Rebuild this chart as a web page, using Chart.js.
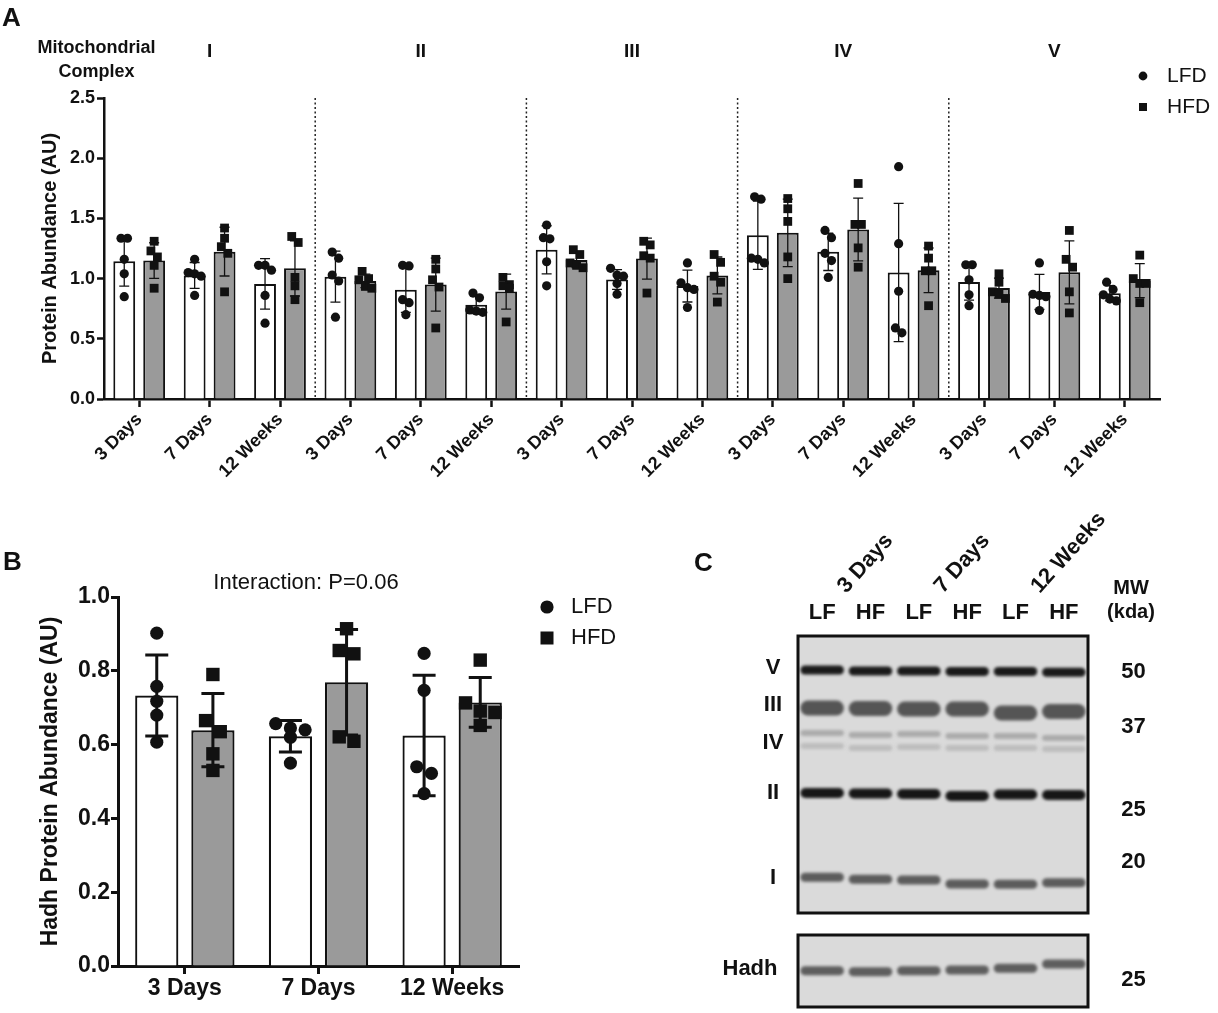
<!DOCTYPE html>
<html>
<head>
<meta charset="utf-8">
<script src="https://cdn.jsdelivr.net/npm/chart.js@4"></script>
<style>
  body { margin: 0; background: #fff; }
  #wrap { position: relative; width: 1218px; height: 1013px; overflow: hidden; font-family: 'Liberation Sans', Arial, sans-serif; color: #111; }
  canvas { position: absolute; }
  .letter { position: absolute; font-weight: bold; font-size: 26px; line-height: 1; }
</style>
</head>
<body>
<div id="wrap">
  <canvas id="chartA" width="1218" height="500" style="left:0;top:0"></canvas>
  <canvas id="chartB" width="660" height="473" style="left:0;top:540px"></canvas>
  <canvas id="chartC" width="528" height="513" style="left:690px;top:500px"></canvas>
  <div class="letter" style="left:2px;top:4px">A</div>
  <div class="letter" style="left:3px;top:548px">B</div>
  <div class="letter" style="left:694px;top:549px">C</div>
</div>
<script>
const FONT = "'Liberation Sans', Arial, Helvetica, sans-serif";
const INK = '#111';

// ---- panel A: complexes I-V, each at 3 days / 7 days / 12 weeks
const timepoints = ['3 Days', '7 Days', '12 Weeks'];
const complexes = ['I', 'II', 'III', 'IV', 'V'];

const lfdA = [
  [1.335, 1.335, 1.16, 1.04, 0.85],   // I
  [1.16, 1.05, 1.04, 1.02, 0.86],
  [1.11, 1.11, 1.07, 0.86, 0.63],
  [1.22, 1.17, 1.03, 0.98, 0.68],     // II
  [1.11, 1.105, 0.825, 0.80, 0.70],
  [0.88, 0.84, 0.74, 0.73, 0.72],
  [1.445, 1.34, 1.33, 1.14, 0.94],    // III
  [1.085, 1.03, 1.02, 0.96, 0.87],
  [1.13, 0.965, 0.925, 0.91, 0.76],
  [1.68, 1.66, 1.17, 1.16, 1.13],     // IV
  [1.40, 1.34, 1.21, 1.15, 1.01],
  [1.93, 1.29, 0.895, 0.59, 0.55],
  [1.115, 1.115, 0.99, 0.865, 0.775], // V
  [1.13, 0.87, 0.86, 0.85, 0.735],
  [0.97, 0.91, 0.865, 0.83, 0.815]
];
const hfdA = [
  [1.31, 1.23, 1.18, 1.11, 0.92],     // I
  [1.42, 1.335, 1.265, 1.21, 0.89],
  [1.35, 1.30, 1.01, 0.94, 0.825],
  [1.06, 1.0, 0.99, 0.935, 0.92],     // II
  [1.16, 1.08, 0.99, 0.93, 0.59],
  [1.01, 0.95, 0.94, 0.92, 0.64],
  [1.24, 1.20, 1.13, 1.11, 1.09],     // III
  [1.31, 1.28, 1.19, 1.17, 0.88],
  [1.20, 1.135, 1.02, 0.97, 0.805],
  [1.665, 1.58, 1.475, 1.18, 1.0],    // IV
  [1.79, 1.45, 1.45, 1.255, 1.095],
  [1.27, 1.17, 1.065, 1.065, 0.775],
  [1.04, 0.97, 0.89, 0.87, 0.835],    // V
  [1.40, 1.16, 1.095, 0.89, 0.715],
  [1.195, 1.0, 0.96, 0.96, 0.80]
];

// ---- panel B: Hadh
const lfdB = [
  [0.902, 0.758, 0.7175, 0.68, 0.6065],
  [0.657, 0.645, 0.64, 0.62, 0.55],
  [0.847, 0.747, 0.54, 0.522, 0.467]
];
const hfdB = [
  [0.79, 0.665, 0.635, 0.575, 0.53],
  [0.914, 0.855, 0.846, 0.621, 0.609],
  [0.829, 0.713, 0.691, 0.687, 0.652]
];
const interactionText = 'Interaction: P=0.06';

// ---- panel C: blot, band migration (px from top of gel) per lane
const lanes = ['LF', 'HF', 'LF', 'HF', 'LF', 'HF'];
const bandV     = [34, 35, 35, 35.5, 35.5, 36.3];
const bandIII   = [72, 72.5, 73, 73, 77, 75.5];
const bandIVa   = [97, 99, 98, 100, 100, 102];
const bandIVb   = [110, 112, 111, 112, 112, 113];
const bandII    = [157, 157.5, 158, 160, 158.5, 159];
const bandI     = [241.3, 243.3, 244, 248, 248.3, 246.7];
const bandHadh  = [334.7, 335.7, 334.7, 334, 332.3, 328];
const bandNames = ['V', 'III', 'IV', 'II', 'I'];
const bandNamePos = [32, 69, 106.7, 156.7, 242.3];
const mwLabels = ['50', '37', '25', '20', '25'];
const mwPos = [35.7, 90.7, 174, 225.7, 344];

// ---- helpers
const mean = a => a.reduce((s, v) => s + v, 0) / a.length;
const sd = a => { const m = mean(a); return Math.sqrt(a.reduce((s, v) => s + (v - m) ** 2, 0) / (a.length - 1)); };

// spread overlapping points sideways like a column scatter
function swarm(values, center, spacing, thresh) {
  const order = values.map((v, i) => i).sort((a, b) => values[b] - values[a]);
  const out = [];
  let row = [];
  const flush = () => {
    row.forEach((k, r) => out.push({ x: center + (r - (row.length - 1) / 2) * spacing, y: values[k] }));
    row = [];
  };
  order.forEach(k => {
    if (row.length && values[row[0]] - values[k] > thresh) flush();
    row.push(k);
  });
  flush();
  return out;
}

function drawErrorBars(chart, dsIndex, groups, capW, lw) {
  const ctx = chart.ctx, y = chart.scales.y;
  const meta = chart.getDatasetMeta(dsIndex);
  ctx.save();
  ctx.strokeStyle = INK;
  ctx.lineWidth = lw;
  meta.data.forEach((bar, j) => {
    const m = mean(groups[j]), s = sd(groups[j]);
    const y1 = y.getPixelForValue(m + s), y2 = y.getPixelForValue(m - s);
    ctx.beginPath();
    ctx.moveTo(bar.x, y1); ctx.lineTo(bar.x, y2);
    ctx.moveTo(bar.x - capW / 2, y1); ctx.lineTo(bar.x + capW / 2, y1);
    ctx.moveTo(bar.x - capW / 2, y2); ctx.lineTo(bar.x + capW / 2, y2);
    ctx.stroke();
  });
  ctx.restore();
}

// individual animals, placed with the chart's own x (category index) and y scales
function drawPoints(chart, groups, shift, spacing, thresh, square, size) {
  const { ctx, scales: { x, y } } = chart;
  ctx.save();
  ctx.fillStyle = INK;
  groups.forEach((vals, i) => {
    swarm(vals, i + shift, spacing, thresh).forEach(p => {
      const px = x.getPixelForValue(p.x), py = y.getPixelForValue(p.y);
      ctx.beginPath();
      if (square) ctx.rect(px - size / 2, py - size / 2, size, size);
      else ctx.arc(px, py, size / 2, 0, Math.PI * 2);
      ctx.fill();
    });
  });
  ctx.restore();
}

function legend(ctx, x, y, gap, dot, sq, size) {
  ctx.save();
  ctx.fillStyle = INK;
  ctx.beginPath(); ctx.arc(x, y, dot / 2, 0, Math.PI * 2); ctx.fill();
  ctx.fillRect(x - sq / 2, y + gap - sq / 2, sq, sq);
  ctx.font = `${size}px ${FONT}`;
  ctx.textBaseline = 'middle';
  ctx.fillText('LFD', x + 24, y);
  ctx.fillText('HFD', x + 24, y + gap);
  ctx.restore();
}

function axisOpts(lw) {
  return {
    grid: { drawOnChartArea: false, offset: false, tickLength: 8, tickWidth: lw, tickColor: INK, color: INK },
    border: { color: INK, width: lw }
  };
}

// ================= Panel A =================
const catsA = complexes.flatMap(() => timepoints);
const offA = 0.2125;

new Chart(document.getElementById('chartA'), {
  type: 'bar',
  data: {
    labels: catsA,
    datasets: [
      { label: 'LFD', data: lfdA.map(mean), backgroundColor: '#ffffff', borderColor: INK, borderWidth: 2 },
      { label: 'HFD', data: hfdA.map(mean), backgroundColor: '#9a9a9a', borderColor: INK, borderWidth: 2 }
    ]
  },
  options: {
    responsive: false,
    animation: false,
    layout: { padding: { left: 0, top: 98, right: 58, bottom: 0 } },
    datasets: { bar: { categoryPercentage: 0.85, barPercentage: 0.73 } },
    plugins: { legend: { display: false }, tooltip: { enabled: false } },
    scales: {
      x: {
        ...axisOpts(2.5),
        ticks: { font: { family: FONT, size: 18, weight: 'bold' }, color: INK, minRotation: 45, maxRotation: 45, autoSkip: false, padding: 2 },
        afterFit: s => { s.height = 101; }
      },
      y: {
        min: 0, max: 2.5,
        border: { color: INK, width: 2.5 },
        grid: { drawOnChartArea: false, tickLength: 7, tickWidth: 2.5, tickColor: INK, color: INK },
        ticks: { stepSize: 0.5, callback: v => v.toFixed(1), font: { family: FONT, size: 18, weight: 'bold' }, color: INK, padding: 2 },
        title: { display: true, text: 'Protein Abundance (AU)', font: { family: FONT, size: 20, weight: 'bold' }, color: INK, padding: { top: 38, bottom: 0 } },
        afterFit: s => { s.width = 104; }
      }
    }
  },
  plugins: [{
    id: 'annotA',
    beforeDatasetsDraw(chart) {
      const { ctx, chartArea, scales: { x } } = chart;
      ctx.save();
      ctx.strokeStyle = '#222';
      ctx.lineWidth = 1.5;
      ctx.setLineDash([2, 2.5]);
      for (let g = 1; g < complexes.length; g++) {
        const px = (x.getPixelForValue(g * 3 - 1) + x.getPixelForValue(g * 3)) / 2;
        ctx.beginPath(); ctx.moveTo(px, chartArea.top); ctx.lineTo(px, chartArea.bottom); ctx.stroke();
      }
      ctx.restore();
    },
    afterDatasetsDraw(chart) {
      drawErrorBars(chart, 0, lfdA, 10, 1.3);
      drawErrorBars(chart, 1, hfdA, 10, 1.3);
      drawPoints(chart, lfdA, -offA, 0.092, 0.07, false, 9.2);
      drawPoints(chart, hfdA, offA, 0.092, 0.07, true, 8.8);
    },
    afterDraw(chart) {
      const { ctx, scales: { x } } = chart;
      ctx.save();
      ctx.fillStyle = INK;
      ctx.textAlign = 'center';
      ctx.textBaseline = 'middle';
      ctx.font = `bold 18px ${FONT}`;
      ctx.fillText('Mitochondrial', 96.5, 48);
      ctx.fillText('Complex', 96.5, 72);
      ctx.font = `bold 19px ${FONT}`;
      complexes.forEach((c, g) => ctx.fillText(c, x.getPixelForValue(g * 3 + 1), 52));
      ctx.restore();
      legend(ctx, 1143, 76, 31, 8.8, 8, 21);
    }
  }]
});

// ================= Panel B =================
const offB = 0.21;
new Chart(document.getElementById('chartB'), {
  type: 'bar',
  data: {
    labels: timepoints,
    datasets: [
      { label: 'LFD', data: lfdB.map(mean), backgroundColor: '#ffffff', borderColor: INK, borderWidth: 2.2 },
      { label: 'HFD', data: hfdB.map(mean), backgroundColor: '#9a9a9a', borderColor: INK, borderWidth: 2.2 }
    ]
  },
  options: {
    responsive: false,
    animation: false,
    layout: { padding: { left: 0, top: 57, right: 141, bottom: 0 } },
    datasets: { bar: { categoryPercentage: 0.84, barPercentage: 0.77 } },
    plugins: { legend: { display: false }, tooltip: { enabled: false } },
    scales: {
      x: {
        ...axisOpts(3),
        ticks: { font: { family: FONT, size: 23, weight: 'bold' }, color: INK, maxRotation: 0, padding: 1 },
        afterFit: s => { s.height = 47; }
      },
      y: {
        min: 0, max: 1,
        border: { color: INK, width: 3 },
        grid: { drawOnChartArea: false, tickLength: 7, tickWidth: 3, tickColor: INK, color: INK },
        ticks: { stepSize: 0.2, callback: v => v.toFixed(1), font: { family: FONT, size: 23, weight: 'bold' }, color: INK, padding: 1 },
        title: { display: true, text: 'Hadh Protein Abundance (AU)', font: { family: FONT, size: 23, weight: 'bold' }, color: INK, padding: { top: 37, bottom: 0 } },
        afterFit: s => { s.width = 118; }
      }
    }
  },
  plugins: [{
    id: 'annotB',
    afterDatasetsDraw(chart) {
      drawErrorBars(chart, 0, lfdB, 23, 3);
      drawErrorBars(chart, 1, hfdB, 23, 3);
      drawPoints(chart, lfdB, -offB, 0.11, 0.035, false, 13.2);
      drawPoints(chart, hfdB, offB, 0.11, 0.035, true, 13.4);
    },
    afterDraw(chart) {
      const ctx = chart.ctx;
      ctx.save();
      ctx.fillStyle = INK;
      ctx.textAlign = 'center';
      ctx.textBaseline = 'middle';
      ctx.font = `22px ${FONT}`;
      ctx.fillText(interactionText, 306, 43);
      ctx.restore();
      legend(ctx, 547, 67, 31, 13.2, 13, 22);
    }
  }]
});

// ================= Panel C =================
const GEL_MAIN = [0, 277], GEL_HADH = [299, 371];
const bands = [
  { mig: bandV, h: 9, color: '#1a1a1a' },
  { mig: bandIII, h: 15, color: '#555555' },
  { mig: bandIVa, h: 6, color: '#ababab' },
  { mig: bandIVb, h: 6, color: '#bdbdbd' },
  { mig: bandII, h: 10, color: '#161616' },
  { mig: bandI, h: 9, color: '#5c5c5c' },
  { mig: bandHadh, h: 9, color: '#5e5e5e' }
];

new Chart(document.getElementById('chartC'), {
  type: 'bar',
  data: {
    labels: lanes,
    datasets: bands.map(b => ({
      data: b.mig.map(c => [c - b.h / 2, c + b.h / 2]),
      backgroundColor: b.color,
      borderRadius: b.h / 2,
      borderSkipped: false,
      grouped: false,
      barPercentage: 0.9,
      categoryPercentage: 1
    }))
  },
  options: {
    responsive: false,
    animation: false,
    layout: { padding: { left: 108, top: 100, right: 130, bottom: 6 } },
    plugins: { legend: { display: false }, tooltip: { enabled: false } },
    scales: {
      x: {
        position: 'top',
        grid: { display: false, drawTicks: false },
        border: { display: false },
        ticks: { font: { family: FONT, size: 22, weight: 'bold' }, color: INK, padding: 10 },
        afterFit: s => { s.height = 36; }
      },
      y: { min: 0, max: 371, reverse: true, display: false }
    }
  },
  plugins: [{
    id: 'blot',
    beforeDatasetsDraw(chart) {
      const { ctx, chartArea: { left, right }, scales: { y } } = chart;
      ctx.save();
      ctx.fillStyle = '#dadada';
      [GEL_MAIN, GEL_HADH].forEach(([a, b]) => {
        ctx.fillRect(left, y.getPixelForValue(a), right - left, y.getPixelForValue(b) - y.getPixelForValue(a));
      });
      ctx.restore();
      ctx.filter = 'blur(1.5px)';
    },
    afterDatasetsDraw(chart) {
      const { ctx, chartArea: { left, right }, scales: { y } } = chart;
      ctx.filter = 'none';
      ctx.save();
      ctx.strokeStyle = INK;
      ctx.lineWidth = 3;
      [GEL_MAIN, GEL_HADH].forEach(([a, b]) => {
        ctx.strokeRect(left, y.getPixelForValue(a), right - left, y.getPixelForValue(b) - y.getPixelForValue(a));
      });
      ctx.restore();
    },
    afterDraw(chart) {
      const { ctx, chartArea: { left, right, top }, scales: { x, y } } = chart;
      ctx.save();
      ctx.fillStyle = INK;
      ctx.font = `bold 22px ${FONT}`;
      // time labels, slanted over each lane pair
      timepoints.forEach((t, k) => {
        ctx.save();
        ctx.translate(x.getPixelForValue(2 * k + 0.5), top - 42);
        ctx.rotate(-48 * Math.PI / 180);
        ctx.textAlign = 'left';
        ctx.textBaseline = 'alphabetic';
        ctx.fillText(t, 0, 0);
        ctx.restore();
      });
      ctx.textAlign = 'center';
      ctx.textBaseline = 'middle';
      bandNames.forEach((n, i) => ctx.fillText(n, left - 25, y.getPixelForValue(bandNamePos[i])));
      ctx.fillText('Hadh', left - 48, y.getPixelForValue(333.3));
      mwLabels.forEach((m, i) => ctx.fillText(m, right + 45.5, y.getPixelForValue(mwPos[i])));
      ctx.font = `bold 20px ${FONT}`;
      ctx.fillText('MW', right + 43, 88);
      ctx.fillText('(kda)', right + 43, 112);
      ctx.restore();
    }
  }]
});
</script>
</body>
</html>
